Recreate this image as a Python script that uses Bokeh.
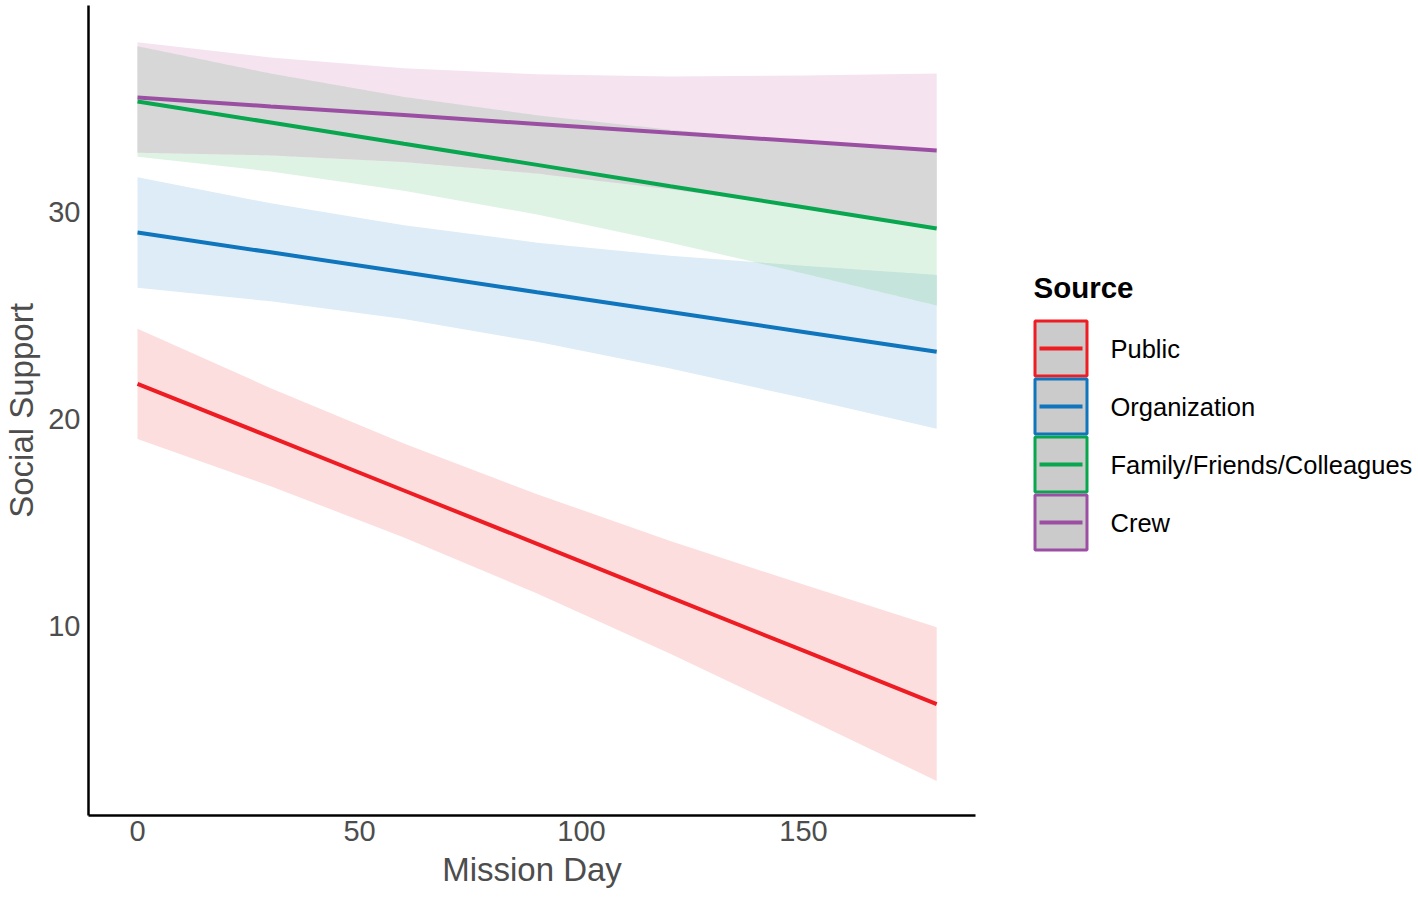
import numpy as np
from bokeh.plotting import figure
from bokeh.layouts import row
from bokeh.models import Range1d, FixedTicker
from bokeh.embed import file_html
from bokeh.resources import INLINE
from bokeh.core.properties import value

# ---------------- data ----------------
days = [0, 30, 60, 90, 120, 150, 180]
sources = ["Public", "Organization", "Family/Friends/Colleagues", "Crew"]

public_fit = [21.69, 19.11, 16.53, 13.95, 11.36, 8.78, 6.20]
public_lo = [19.02, 16.74, 14.26, 11.55, 8.63, 5.58, 2.48]
public_hi = [24.36, 21.48, 18.80, 16.35, 14.09, 11.98, 9.92]

org_fit = [29.01, 28.05, 27.09, 26.12, 25.16, 24.20, 23.24]
org_lo = [26.34, 25.68, 24.82, 23.72, 22.43, 21.00, 19.52]
org_hi = [31.68, 30.42, 29.36, 28.52, 27.89, 27.40, 26.96]

fam_fit = [35.35, 34.33, 33.30, 32.28, 31.25, 30.23, 29.20]
fam_lo = [32.68, 31.96, 31.03, 29.88, 28.52, 27.03, 25.48]
fam_hi = [38.02, 36.70, 35.57, 34.68, 33.98, 33.43, 32.92]

crew_fit = [35.54, 35.11, 34.69, 34.26, 33.83, 33.41, 32.98]
crew_lo = [32.87, 32.74, 32.42, 31.86, 31.10, 30.21, 29.26]
crew_hi = [38.21, 37.48, 36.96, 36.66, 36.56, 36.61, 36.70]

x_ticks = [0, 50, 100, 150]
y_ticks = [10, 20, 30]

# ---------------- styles ----------------
line_colors = ["#EE1D23", "#0F75BC", "#07A64F", "#9B4FA3"]
band_colors = ["#FDDEDE", "#DDECF6", "#DFF3E4", "#F5E4F0"]
overlap_grey = "#D7D7D7"
overlap_teal = "#C4E4DC"
FONT = "Liberation Sans"
GREY_TXT = "#4D4D4D"

fits = [public_fit, org_fit, fam_fit, crew_fit]
los = [public_lo, org_lo, fam_lo, crew_lo]
his = [public_hi, org_hi, fam_hi, crew_hi]

H = 898
MAIN_W = 990
LEG_W = 428
FRAME_LEFT = 88
FRAME_RIGHT = 975
FRAME_TOP = 5
FRAME_BOTTOM = 815

# ---------------- main plot ----------------
p = figure(width=MAIN_W, height=H, output_backend="svg", toolbar_location=None,
           x_range=Range1d(-11.04, 188.74), y_range=Range1d(0.81, 39.99),
           min_border_left=FRAME_LEFT, min_border_right=MAIN_W - FRAME_RIGHT,
           min_border_top=FRAME_TOP, min_border_bottom=H - FRAME_BOTTOM)
p.outline_line_color = None
p.grid.visible = False
p.background_fill_color = "white"
p.border_fill_color = "white"

for lo, hi, c in zip(los, his, band_colors):
    p.varea(x=days, y1=lo, y2=hi, fill_color=c, fill_alpha=1.0)

# overlap regions derived from the bands
xf = np.linspace(days[0], days[-1], 361)
def interp(a):
    return np.interp(xf, days, a)

# Crew ∩ Family
ov_lo = np.maximum(interp(crew_lo), interp(fam_lo))
ov_hi = np.minimum(interp(crew_hi), interp(fam_hi))
ov_hi = np.maximum(ov_hi, ov_lo)
p.varea(x=xf, y1=ov_lo, y2=ov_hi, fill_color=overlap_grey)

# Family ∩ Organization
ov2_lo = np.maximum(interp(org_lo), interp(fam_lo))
ov2_hi = np.minimum(interp(org_hi), interp(fam_hi))
ov2_hi = np.maximum(ov2_hi, ov2_lo)
p.varea(x=xf, y1=ov2_lo, y2=ov2_hi, fill_color=overlap_teal)

for f, c in zip(fits, line_colors):
    p.line(x=days, y=f, line_color=c, line_width=4)

for ax in (p.xaxis[0], p.yaxis[0]):
    ax.axis_line_color = "black"
    ax.axis_line_width = 2.5
    ax.major_tick_line_color = None
    ax.minor_tick_line_color = None
    ax.major_tick_out = 0
    ax.major_tick_in = 0
    ax.major_label_text_font = FONT
    ax.major_label_text_font_size = "29px"
    ax.major_label_text_color = GREY_TXT
    ax.axis_label_text_font = FONT
    ax.axis_label_text_font_size = "33px"
    ax.axis_label_text_font_style = "normal"
    ax.axis_label_text_color = GREY_TXT

p.xaxis.ticker = FixedTicker(ticks=x_ticks)
p.yaxis.ticker = FixedTicker(ticks=y_ticks)
p.xaxis.axis_label = "Mission Day"
p.yaxis.axis_label = "Social Support"
p.xaxis.major_label_standoff = 5
p.xaxis.axis_label_standoff = 7
p.yaxis.major_label_standoff = 8
p.yaxis.axis_label_standoff = 5

# ---------------- legend panel ----------------
# the row layout aligns its frame with the main plot's frame;
# ranges are expressed in picture pixels
lg = figure(width=LEG_W, height=H, output_backend="svg", toolbar_location=None,
            x_range=Range1d(MAIN_W, MAIN_W + LEG_W),
            y_range=Range1d(FRAME_BOTTOM, FRAME_TOP),
            x_axis_location=None, y_axis_location=None,
            min_border=0)
lg.outline_line_color = None
lg.grid.visible = False

n = len(sources)
key_h = 58
key_top0 = 319
key_left, key_right = 1033, 1088
idx = np.arange(n)
tops = key_top0 + idx * key_h
bottoms = tops + key_h
centers = tops + key_h / 2

lg.quad(left=key_left + 1.5, right=key_right - 1.5, top=tops + 1.5, bottom=bottoms - 1.5,
        fill_color="#CBCBCB", line_color=line_colors, line_width=3)
lg.segment(x0=key_left + 6, x1=key_right - 6, y0=centers, y1=centers,
           line_color=line_colors, line_width=4)
lg.text(x=[1110] * n, y=centers, text=sources, text_font=value(FONT),
        text_font_size="25.5px", text_baseline="middle", text_align="left",
        text_color="black")
lg.text(x=[1033], y=[287], text=["Source"], text_font=value(FONT),
        text_font_size="29.5px", text_font_style="bold", text_baseline="middle",
        text_align="left", text_color="black")

layout = row(p, lg)
open("out.html", "w").write(file_html(layout, INLINE))
